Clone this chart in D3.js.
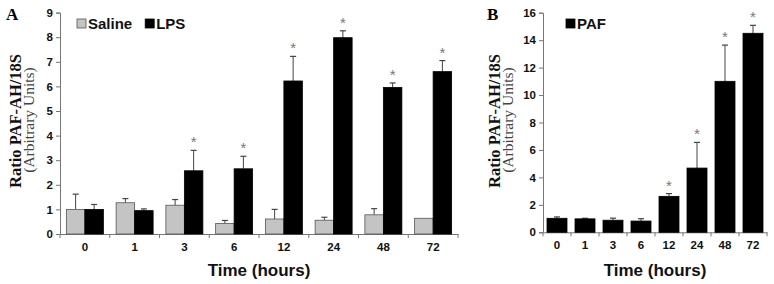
<!DOCTYPE html>
<html><head><meta charset="utf-8">
<script src="https://cdn.jsdelivr.net/npm/d3@7"></script>
<style>
body{margin:0;background:#fff;}
svg{display:block;}
</style></head>
<body><svg id="c" width="774" height="284"></svg>
<script>
// ---- Data ----
const categories = ["0","1","3","6","12","24","48","72"];
const salineMean = [1.0, 1.27, 1.17, 0.43, 0.61, 0.56, 0.78, 0.64];
const salineErr  = [0.62, 0.17, 0.23, 0.12, 0.39, 0.12, 0.25, 0];
const lpsMean    = [1.0, 0.95, 2.57, 2.65, 6.22, 7.98, 5.96, 6.6];
const lpsErr     = [0.2, 0.07, 0.83, 0.51, 1.0, 0.28, 0.18, 0.45];
const lpsSig     = [false,false,true,true,true,true,true,true];
const pafMean    = [1.02, 0.98, 0.88, 0.82, 2.62, 4.68, 11.0, 14.5];
const pafErr     = [0.1, 0.04, 0.15, 0.17, 0.2, 1.87, 2.64, 0.58];
const pafSig     = [false,false,false,false,true,true,true,true];
const yTicksA = [0,1,2,3,4,5,6,7,8,9];
const yTicksB = [0,2,4,6,8,10,12,14,16];

const svg = d3.select("#c");
const tickFont = "bold 11.5px Arial, 'Liberation Sans', sans-serif";

function panel(opts){
  const g = svg.append("g");
  const x = d3.scaleBand().domain(categories).range([opts.x0, opts.x1]).paddingInner(0).paddingOuter(0);
  const y = d3.scaleLinear().domain([0, opts.ymax]).range([opts.y0, opts.y1]);

  // y axis
  const ya = g.append("g").attr("transform",`translate(${opts.x0},0)`)
    .call(d3.axisLeft(y).tickValues(opts.yTicks).tickSize(4).tickPadding(3).tickFormat(d3.format("d")));
  ya.select(".domain").attr("stroke","#777");
  ya.selectAll(".tick line").attr("stroke","#777");
  ya.selectAll("text").style("font",tickFont).attr("fill","#111");

  // x axis
  const xa = g.append("g").attr("transform",`translate(0,${opts.y0})`)
    .call(d3.axisBottom(x).tickSize(0).tickPadding(9));
  xa.select(".domain").attr("stroke","#777");
  xa.selectAll("text").style("font",tickFont).attr("fill","#111");
  // boundary ticks
  const bounds = categories.map(c=>x(c)).concat([opts.x1]);
  g.selectAll(".bt").data(bounds).enter().append("line")
    .attr("x1",d=>d).attr("x2",d=>d).attr("y1",opts.y0).attr("y2",opts.y0+4)
    .attr("stroke","#777");

  const series = opts.series;
  const n = series.length;
  const bw = opts.barW;
  series.forEach((s,si)=>{
    const off = (x.bandwidth() - n*bw)/2 + si*bw;
    // error bars (upward only)
    categories.forEach((c,i)=>{
      const cx = x(c)+off+bw/2;
      if(s.err[i]>0){
        g.append("line").attr("x1",cx).attr("x2",cx)
          .attr("y1",y(s.mean[i])).attr("y2",y(s.mean[i]+s.err[i]))
          .attr("stroke","#444").attr("stroke-width",1);
        g.append("line").attr("x1",cx-3).attr("x2",cx+3)
          .attr("y1",y(s.mean[i]+s.err[i])).attr("y2",y(s.mean[i]+s.err[i]))
          .attr("stroke","#444").attr("stroke-width",1.2);
      }
    });
    g.selectAll(null).data(s.mean).enter().append("rect")
      .attr("x",(d,i)=>x(categories[i])+off)
      .attr("y",d=>y(d))
      .attr("width",bw)
      .attr("height",d=>opts.y0-y(d))
      .attr("fill",s.fill).attr("stroke",s.stroke).attr("stroke-width",0.8);
    if(s.sig){
      categories.forEach((c,i)=>{
        if(!s.sig[i]) return;
        const cx = x(c)+off+bw/2;
        g.append("text").attr("x",cx).attr("y",y(s.mean[i]+s.err[i])-3)
          .attr("text-anchor","middle").style("font","15px Arial, sans-serif")
          .attr("fill","#777").text("*");
      });
    }
  });

  // panel letter
  g.append("text").attr("x",opts.letterX).attr("y",20)
    .style("font","bold 17px 'Times New Roman','Liberation Serif',serif").attr("fill","#000").text(opts.letter);

  // y label
  const cy = 121;
  g.append("text").attr("transform",`translate(${opts.labX},${cy}) rotate(-90)`)
    .attr("text-anchor","middle")
    .style("font","bold 16.5px 'Times New Roman','Liberation Serif',serif").attr("fill","#111")
    .text("Ratio PAF-AH/18S");
  g.append("text").attr("transform",`translate(${opts.labX+13},${cy-1}) rotate(-90)`)
    .attr("text-anchor","middle")
    .style("font","15.5px 'Times New Roman','Liberation Serif',serif").attr("fill","#444")
    .text("(Arbitrary Units)");

  // x title
  g.append("text").attr("x",(opts.x0+opts.x1)/2).attr("y",276)
    .attr("text-anchor","middle")
    .style("font","bold 17px Arial, 'Liberation Sans', sans-serif").attr("fill","#111")
    .text("Time (hours)");

  // legend
  let lx = opts.legX;
  opts.legend.forEach(l=>{
    g.append("rect").attr("x",lx).attr("y",19).attr("width",9).attr("height",9)
      .attr("fill",l.fill).attr("stroke",l.stroke).attr("stroke-width",0.8);
    const t = g.append("text").attr("x",lx+11).attr("y",29)
      .style("font","bold 15px Arial, 'Liberation Sans', sans-serif").attr("fill","#111").text(l.label);
    lx += 11 + t.node().getComputedTextLength() + 13;
  });
}

panel({
  x0:60, x1:458, y0:234, y1:12.6, ymax:9, yTicks:yTicksA, barW:18.5,
  series:[
    {mean:salineMean, err:salineErr, fill:"#c4c4c4", stroke:"#555"},
    {mean:lpsMean, err:lpsErr, fill:"#000", stroke:"#000"  , sig:lpsSig}
  ],
  letter:"A", letterX:6, labX:21, legX:77,
  legend:[{label:"Saline",fill:"#c4c4c4",stroke:"#555"},{label:"LPS",fill:"#000",stroke:"#000"}]
});
panel({
  x0:543, x1:767, y0:232.3, y1:12.7, ymax:16, yTicks:yTicksB, barW:20,
  series:[
    {mean:pafMean, err:pafErr, fill:"#000", stroke:"#000", sig:pafSig}
  ],
  letter:"B", letterX:487, labX:500, legX:566,
  legend:[{label:"PAF",fill:"#000",stroke:"#000"}]
});
</script>
</body></html>
